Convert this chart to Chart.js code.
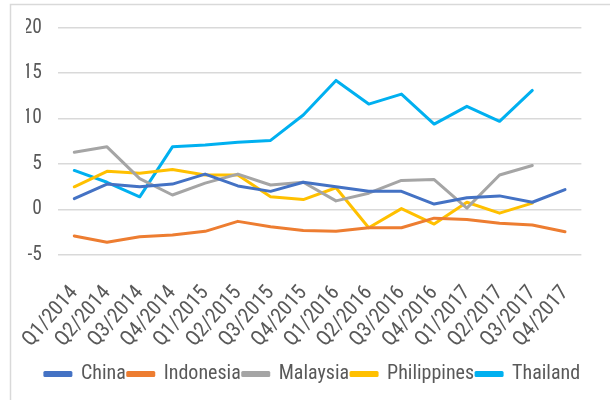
<!DOCTYPE html>
<html>
<head>
<meta charset="utf-8">
<script src="https://cdn.jsdelivr.net/npm/chart.js@4/dist/chart.umd.min.js"></script>
<style>
  html, body { margin: 0; padding: 0; background: #ffffff; }
  #wrap { width: 610px; height: 400px; position: relative; }
</style>
</head>
<body>
<div id="wrap"><canvas id="c" width="610" height="400"></canvas></div>
<script>
const categories = ["Q1/2014","Q2/2014","Q3/2014","Q4/2014","Q1/2015","Q2/2015","Q3/2015","Q4/2015","Q1/2016","Q2/2016","Q3/2016","Q4/2016","Q1/2017","Q2/2017","Q3/2017","Q4/2017"];
const china       = [1.2, 2.8, 2.5, 2.8, 3.9, 2.6, 2.0, 3.0, 2.5, 2.0, 2.0, 0.6, 1.3, 1.5, 0.8, 2.2];
const indonesia   = [-2.9, -3.6, -3.0, -2.8, -2.4, -1.3, -1.9, -2.3, -2.4, -2.0, -2.0, -0.95, -1.1, -1.5, -1.7, -2.45];
const malaysia    = [6.3, 6.9, 3.4, 1.6, 2.9, 3.9, 2.7, 3.0, 0.95, 1.8, 3.2, 3.3, 0.15, 3.8, 4.85, null];
const philippines = [2.5, 4.2, 4.0, 4.4, 3.8, 3.8, 1.4, 1.1, 2.4, -2.0, 0.1, -1.6, 0.8, -0.4, 0.7, null];
const thailand    = [4.3, 3.0, 1.4, 6.9, 7.1, 7.4, 7.6, 10.4, 14.2, 11.6, 12.7, 9.4, 11.35, 9.7, 13.1, null];
const yTicks = [-5, 0, 5, 10, 15, 20];

const FONT = "'Roboto Condensed', 'DejaVu Sans Condensed', sans-serif";
const TEXT = "#595959";

function ds(label, data, color) {
  return { label, data, borderColor: color, backgroundColor: color, borderWidth: 3,
           pointRadius: 0, pointHoverRadius: 0, tension: 0, spanGaps: false,
           borderCapStyle: 'round', borderJoinStyle: 'round' };
}

const framePlugin = {
  id: 'frame',
  beforeDraw(chart) {
    const ctx = chart.ctx;
    ctx.save();
    ctx.strokeStyle = '#d9d9d9';
    ctx.lineWidth = 1.5;
    ctx.beginPath();
    ctx.moveTo(10.5, 400);
    ctx.lineTo(10.5, 4.5);
    ctx.lineTo(610, 4.5);
    ctx.stroke();
    ctx.restore();
  }
};

new Chart(document.getElementById('c'), {
  type: 'line',
  data: {
    labels: categories,
    datasets: [
      ds('China', china, '#4472C4'),
      ds('Indonesia', indonesia, '#ED7D31'),
      ds('Malaysia', malaysia, '#A5A5A5'),
      ds('Philippines', philippines, '#FFC000'),
      ds('Thailand', thailand, '#00B0F0')
    ]
  },
  options: {
    responsive: false,
    animation: false,
    devicePixelRatio: 1,
    layout: { padding: { left: 20, right: 5, top: 26, bottom: 6 } },
    plugins: {
      tooltip: { enabled: false },
      legend: {
        position: 'bottom',
        labels: {
          font: { family: FONT, size: 20 },
          color: TEXT,
          boxWidth: 26,
          boxHeight: 3,
          padding: 2
        }
      }
    },
    scales: {
      x: {
        offset: true,
        grid: { display: false, drawTicks: false },
        border: { display: false },
        afterFit(scale) { scale.height = 107; },
        ticks: {
          font: { family: FONT, size: 21 },
          color: TEXT,
          minRotation: 49,
          maxRotation: 49,
          padding: 26,
          autoSkip: false
        }
      },
      y: {
        min: -5,
        max: 20,
        afterBuildTicks(scale) { scale.ticks = yTicks.map(v => ({ value: v })); },
        afterFit(scale) { scale.width = 32; },
        grid: { color: '#d9d9d9', lineWidth: 1.5, drawTicks: false },
        border: { display: false },
        ticks: {
          font: { family: FONT, size: 19.5 },
          color: TEXT,
          padding: 16
        }
      }
    }
  },
  plugins: [framePlugin]
});
</script>
</body>
</html>
